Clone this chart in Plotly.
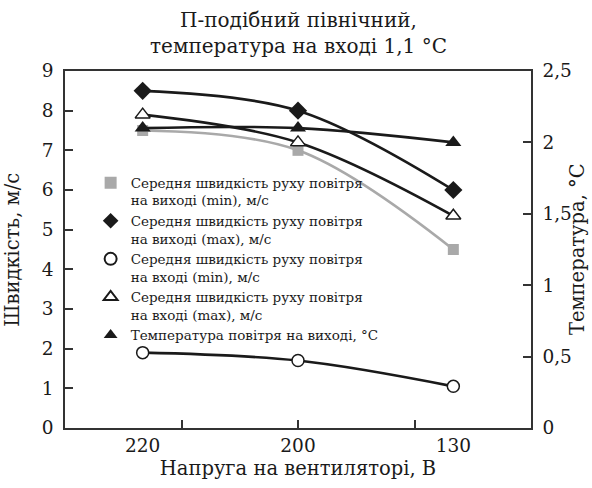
import plotly.graph_objects as go

categories = ["220", "200", "130"]
out_min = [7.5, 7.0, 4.5]
out_max = [8.5, 8.0, 6.0]
in_min = [1.9, 1.7, 1.05]
in_max = [7.9, 7.2, 5.35]
temp_out = [2.1, 2.1, 2.0]

names = [
    "Середня швидкість руху повітря<br>на виході (min), м/с",
    "Середня швидкість руху повітря<br>на виході (max), м/с",
    "Середня швидкість руху повітря<br>на вході (min), м/с",
    "Середня швидкість руху повітря<br>на вході (max), м/с",
    "Температура повітря на виході, °C",
]

FONT = "DejaVu Serif"
BLACK = "#1a1a1a"
GRAY = "#a9a9a9"
xs = list(range(len(categories)))

styles = [
    dict(series=out_min, color=GRAY, marker=dict(symbol="square", size=11, color=GRAY), axis="y"),
    dict(series=out_max, color=BLACK, marker=dict(symbol="diamond", size=14, color=BLACK), axis="y"),
    dict(series=in_min, color=BLACK, marker=dict(symbol="circle", size=12, color="white", line=dict(color=BLACK, width=1.5)), axis="y"),
    dict(series=in_max, color=BLACK, marker=dict(symbol="triangle-up", size=13, color="white", line=dict(color=BLACK, width=1.5)), axis="y"),
    dict(series=temp_out, color=BLACK, marker=dict(symbol="triangle-up", size=14, color=BLACK), axis="y2"),
]

fig = go.Figure()
for name, st in zip(names, styles):
    fig.add_trace(go.Scatter(
        x=xs, y=st["series"], mode="lines+markers", yaxis=st["axis"],
        line=dict(color=st["color"], width=2.6, shape="spline", smoothing=1.0),
        marker=st["marker"], showlegend=False, hoverinfo="skip"))
for name, st in zip(names, styles):
    fig.add_trace(go.Scatter(
        x=[None], y=[None], mode="markers", name=name, marker=st["marker"], yaxis=st["axis"]))
fig.add_trace(go.Scatter(x=[None], y=[None], xaxis="x2", showlegend=False))

fig.update_layout(
    width=592, height=488,
    margin=dict(l=65, r=61, t=71, b=60),
    paper_bgcolor="white", plot_bgcolor="white",
    font=dict(family=FONT, color=BLACK, size=18),
    separators=", ",
    xaxis=dict(range=[-0.5, 2.5], tickmode="array", tickvals=xs, ticktext=categories,
               ticks="", showline=True, linecolor="#333", linewidth=1.5, mirror=True,
               showgrid=False, zeroline=False, tickfont=dict(size=18.5),
               title=dict(text="Напруга на вентиляторі, В", font=dict(size=19.5), standoff=6)),
    xaxis2=dict(range=[-0.5, 2.5], overlaying="x", side="bottom", anchor="y",
                tickvals=[0.25, 1.0, 1.75], ticktext=["", "", ""], ticks="inside",
                ticklen=8, tickwidth=1.5, tickcolor="#333", showgrid=False, zeroline=False,
                showline=False),
    yaxis=dict(range=[0, 9], dtick=1, ticks="inside", ticklen=8, tickwidth=1.5, tickcolor="#333",
               showline=True, linecolor="#333", linewidth=1.5, showgrid=False, zeroline=False,
               tickfont=dict(size=18.5), ticklabelstandoff=6),
    yaxis2=dict(range=[0, 2.5], dtick=0.5, overlaying="y", side="right", anchor="x",
                ticks="inside", ticklen=8, tickwidth=1.5, tickcolor="#333",
                showline=True, linecolor="#333", linewidth=1.5, showgrid=False, zeroline=False,
                tickfont=dict(size=18.5), ticklabelstandoff=6, tickformat=".1~f"),
    legend=dict(x=0.055, y=0.73, xanchor="left", yanchor="top", bgcolor="rgba(0,0,0,0)",
                font=dict(size=13.5, family=FONT), valign="top", tracegroupgap=0,
                itemsizing="constant"),
    annotations=[
        dict(text="П-подібний північний,<br>температура на вході 1,1 °C",
             xref="paper", yref="paper", x=0.5, y=1, xanchor="center", yanchor="bottom",
             yshift=11, showarrow=False, font=dict(size=20, family=FONT)),
        dict(text="Швидкість, м/с", textangle=-90, xref="paper", yref="paper",
             x=-0.113, y=0.5, xanchor="center", yanchor="middle", showarrow=False,
             font=dict(size=19.5, family=FONT)),
        dict(text="Температура, °C", textangle=-90, xref="paper", yref="paper",
             x=1.1, y=0.5, xanchor="center", yanchor="middle", showarrow=False,
             font=dict(size=19.5, family=FONT)),
    ],
)

fig.write_html("out.html")
